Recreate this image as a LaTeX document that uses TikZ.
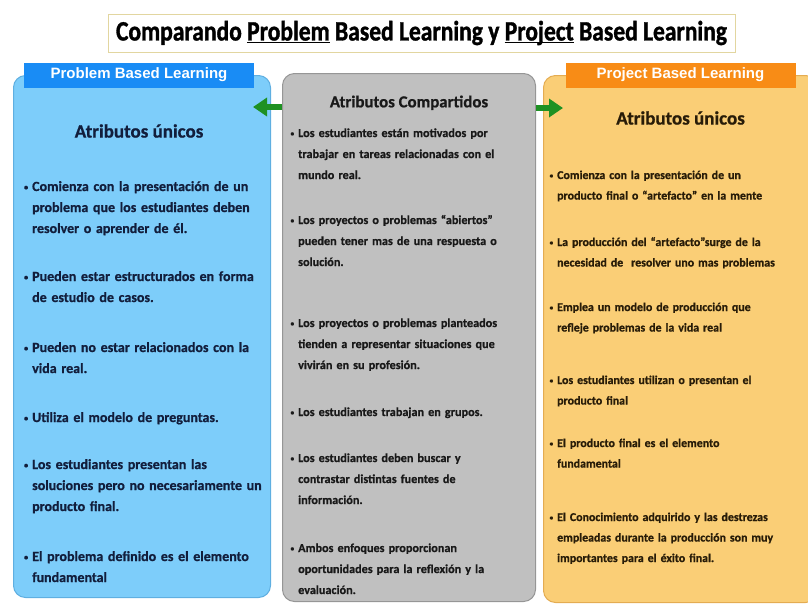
\documentclass[tikz,border=0pt]{standalone}
\usepackage{fontspec}
\setmainfont{Carlito}[BoldFeatures={FakeBold=0.8}]
\newfontfamily\tabfont{Liberation Sans}
\newfontfamily\titlefont{Carlito}[FakeStretch=0.84, BoldFeatures={FakeBold=1.2}]
\usetikzlibrary{positioning,arrows.meta}

\definecolor{pblfill}{RGB}{125,205,250}
\definecolor{pblline}{RGB}{95,175,225}
\definecolor{pbltab}{RGB}{25,140,245}
\definecolor{pbltext}{RGB}{18,30,60}
\definecolor{sharedfill}{RGB}{192,192,192}
\definecolor{sharedline}{RGB}{150,150,150}
\definecolor{sharedtext}{RGB}{25,25,25}
\definecolor{prjfill}{RGB}{250,206,118}
\definecolor{prjline}{RGB}{228,172,82}
\definecolor{prjtab}{RGB}{248,140,22}
\definecolor{prjtext}{RGB}{40,28,8}
\definecolor{linkgreen}{RGB}{30,145,35}
\definecolor{titleline}{RGB}{226,214,160}

\newcommand{\itm}{\leavevmode\llap{\raisebox{1pt}{\scalebox{0.6}{\textbullet}}\hspace{4pt}}}
\newcommand{\ul}[1]{\underline{\smash{#1}}}

\begin{document}
\begin{tikzpicture}[x=1pt, y=-1pt, node distance=1cm and 2.5cm, on grid,
	box/.style={draw, rounded corners=12pt, line width=1pt, anchor=north west, inner sep=0pt},
	tab/.style={text=white, font=\tabfont\bfseries\fontsize{15}{15}\selectfont, minimum width=230pt, minimum height=25pt, inner sep=0pt},
	head/.style={font=\bfseries\fontsize{19}{19}\selectfont},
	item/.style={anchor=base west, inner sep=0pt, text width=300pt, align=left},
	pblitem/.style={item, text=pbltext, font=\bfseries\fontsize{14}{21}\selectfont},
	shareditem/.style={item, text=sharedtext, font=\bfseries\fontsize{12.2}{21}\selectfont},
	prjitem/.style={item, text=prjtext, font=\bfseries\fontsize{11.9}{20.5}\selectfont},
	link/.style={-{Triangle[width=18pt,length=14pt]}, line width=6.5pt, draw=linkgreen}]
	\clip (0,0) rectangle (808,603);
	
	\node[draw=titleline, line width=1pt, fill=white, minimum width=627pt, minimum height=38pt, inner sep=0pt, font=\titlefont\bfseries\fontsize{28}{28}\selectfont] (title) at (421.5,33) {Comparando \ul{Problem} Based Learning y \ul{Project} Based Learning};
	
	\node[box, fill=pblfill, draw=pblline, minimum width=257pt, minimum height=522pt] (pbl) at (13,75) {};
	\node[box, fill=sharedfill, draw=sharedline, minimum width=253pt, minimum height=528pt] (shared) at (282,73) {};
	\node[box, fill=prjfill, draw=prjline, minimum width=274pt, minimum height=527pt] (prj) at (543,75) {};
	
	\node[tab, fill=pbltab] (pbltab) at ([xshift=-3pt]pbl.north) {Problem Based Learning};
	\node[tab, fill=prjtab] (prjtab) at (prj.north) {Project Based Learning};
	
	\node[head, text=pbltext, below=56pt of pbltab] (pblhead) {Atributos únicos};
	\node[head, text=prjtext, below=43pt of prjtab] (prjhead) {Atributos únicos};
	\node[head, text=sharedtext, font=\bfseries\fontsize{16.8}{17}\selectfont, below=19pt of shared.north] (sharedhead) {Atributos Compartidos};
	
	% problem based learning
	\node[pblitem] (pbl1) at (32,191) {\itm Comienza con la presentación de un\\ problema que los estudiantes deben\\ resolver o aprender de él.};
	\node[pblitem] (pbl2) at (32,281) {\itm Pueden estar estructurados en forma\\ de estudio de casos.};
	\node[pblitem] (pbl3) at (32,352) {\itm Pueden no estar relacionados con la\\ vida real.};
	\node[pblitem] (pbl4) at (32,422) {\itm Utiliza el modelo de preguntas.};
	\node[pblitem] (pbl5) at (32,469) {\itm Los estudiantes presentan las\\ soluciones pero no necesariamente un\\ producto final.};
	\node[pblitem] (pbl6) at (32,561) {\itm El problema definido es el elemento\\ fundamental};
	
	% atributos compartidos
	\node[shareditem] (shared1) at (298,137) {\itm Los estudiantes están motivados por\\ trabajar en tareas relacionadas con el\\ mundo real.};
	\node[shareditem] (shared2) at (298,224) {\itm Los proyectos o problemas “abiertos”\\ pueden tener mas de una respuesta o\\ solución.};
	\node[shareditem] (shared3) at (298,327) {\itm Los proyectos o problemas planteados\\ tienden a representar situaciones que\\ vivirán en su profesión.};
	\node[shareditem] (shared4) at (298,416) {\itm Los estudiantes trabajan en grupos.};
	\node[shareditem] (shared5) at (298,462) {\itm Los estudiantes deben buscar y\\ contrastar distintas fuentes de\\ información.};
	\node[shareditem] (shared6) at (298,552) {\itm Ambos enfoques proporcionan\\ oportunidades para la reflexión y la\\ evaluación.};
	
	% project based learning
	\node[prjitem] (prj1) at (557,179) {\itm Comienza con la presentación de un\\ producto final o “artefacto” en la mente};
	\node[prjitem] (prj2) at (557,246) {\itm La producción del “artefacto”surge de la\\ necesidad de\ \ resolver uno mas problemas};
	\node[prjitem] (prj3) at (557,311) {\itm Emplea un modelo de producción que\\ refleje problemas de la vida real};
	\node[prjitem] (prj4) at (557,384) {\itm Los estudiantes utilizan o presentan el\\ producto final};
	\node[prjitem] (prj5) at (557,447) {\itm El producto final es el elemento\\ fundamental};
	\node[prjitem] (prj6) at (557,521) {\itm El Conocimiento adquirido y las destrezas\\ empleadas durante la producción son muy\\ importantes para el éxito final.};
	
	\coordinate (tipL) at (253,107);
	\coordinate (tipR) at (563,108);
	\draw[link] (shared.west |- tipL) -- (tipL);
	\draw[link] (shared.east |- tipR) -- (tipR);
	
\end{tikzpicture}
\end{document}
